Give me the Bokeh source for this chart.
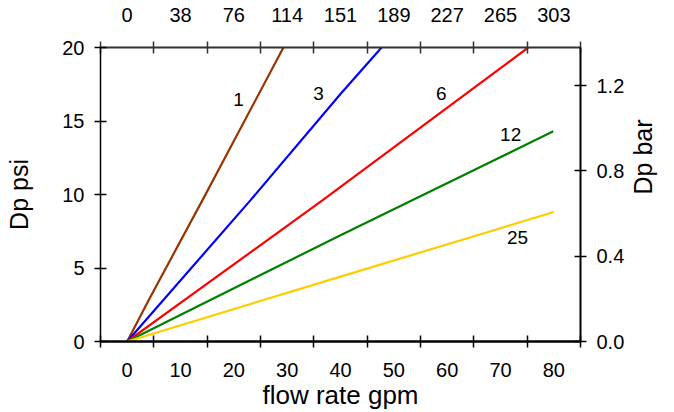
import math
from bokeh.plotting import figure
from bokeh.models import LinearAxis, Range1d, FixedTicker, PrintfTickFormatter
from bokeh.core.properties import value
from bokeh.embed import file_html
from bokeh.resources import INLINE

# ---- data ----
gpm_ticks = [0, 10, 20, 30, 40, 50, 60, 70, 80]
gpm_minor = [-5, 5, 15, 25, 35, 45, 55, 65, 75, 85]
lpm_labels = ["0", "38", "76", "114", "151", "189", "227", "265", "303"]
psi_ticks = [0, 5, 10, 15, 20]
bar_ticks = [0.0, 0.4, 0.8, 1.2]

names = ["1", "3", "6", "12", "25"]
colors = ["#993300", "#0000FF", "#FF0000", "#008000", "#FFCC00"]
flow_1 = [0, 4.05, 14.1, 29.3]
dp_1 = [0, 2.83, 9.6, 20.0]
flow_3 = [0, 23.1, 40.0, 47.7]
dp_3 = [0, 9.6, 16.84, 20.0]
flow_6 = [0, 36.6, 75.2]
dp_6 = [0, 9.6, 20.0]
flow_12 = [0, 40.0, 79.9]
dp_12 = [0, 7.23, 14.3]
flow_25 = [0, 40.0, 80.0]
dp_25 = [0, 4.41, 8.81]
label_x = [20.9, 35.9, 58.9, 71.9, 73.2]
label_y = [16.45, 16.9, 16.9, 14.1, 7.1]

FONT = "Liberation Sans"

p = figure(width=674, height=412, x_range=Range1d(-5, 85), y_range=Range1d(0, 20),
           output_backend="svg", toolbar_location=None,
           x_axis_location=None, y_axis_location=None,
           min_border_left=100, min_border_right=94, min_border_top=47, min_border_bottom=70)
p.outline_line_color = None
p.grid.visible = False
p.extra_y_ranges = {"bar": Range1d(0, 20 / 14.5038)}

def style(ax, title_size="25px"):
    ax.major_label_text_font = FONT
    ax.major_label_text_font_size = "20px"
    ax.major_label_text_color = "black"
    ax.axis_line_color = "black"
    ax.major_tick_line_color = "black"
    ax.minor_tick_line_color = "black"
    ax.axis_label_text_font = FONT
    ax.axis_label_text_font_size = title_size
    ax.axis_label_text_font_style = "normal"
    ax.axis_label_text_color = "black"

# bottom axis
xb = LinearAxis(ticker=FixedTicker(ticks=gpm_ticks, minor_ticks=gpm_minor),
                axis_label="flow rate gpm")
style(xb, "26px")
xb.major_tick_in = 0
xb.major_tick_out = 0
xb.minor_tick_in = 6
xb.minor_tick_out = 6
xb.minor_tick_line_width = 1.5
xb.axis_line_width = 2.5
xb.major_label_standoff = 15
xb.axis_label_standoff = 0
p.add_layout(xb, "below")

# top axis
xt = LinearAxis(ticker=FixedTicker(ticks=gpm_ticks, minor_ticks=gpm_minor),
                major_label_overrides=dict(zip(gpm_ticks, lpm_labels)))
style(xt)
xt.major_tick_in = 0
xt.major_tick_out = 0
xt.minor_tick_in = 6
xt.minor_tick_out = 6
xt.minor_tick_line_width = 1.5
xt.axis_line_width = 2
xt.axis_line_color = "#333333"
xt.minor_tick_line_color = "#333333"
xt.major_label_standoff = 20
p.add_layout(xt, "above")

# left axis
yl = LinearAxis(ticker=FixedTicker(ticks=psi_ticks, minor_ticks=[]), axis_label="Dp psi")
style(yl)
yl.major_tick_in = 6
yl.major_tick_out = 6
yl.major_tick_line_width = 1.5
yl.axis_line_width = 1.5
yl.major_label_standoff = 10
yl.axis_label_standoff = 26
p.add_layout(yl, "left")

# right axis
yr = LinearAxis(y_range_name="bar", ticker=FixedTicker(ticks=bar_ticks, minor_ticks=[]),
                formatter=PrintfTickFormatter(format="%.1f"), axis_label="Dp bar")
style(yr)
yr.major_tick_in = 6
yr.major_tick_out = 6
yr.major_tick_line_width = 1.5
yr.axis_line_width = 2
yr.major_label_standoff = 10
yr.axis_label_standoff = 16
yr.axis_label_orientation = math.pi / 2
p.add_layout(yr, "right")

series = [(flow_1, dp_1), (flow_3, dp_3), (flow_6, dp_6), (flow_12, dp_12), (flow_25, dp_25)]
for (fx, fy), c in zip(series, colors):
    p.line(fx, fy, line_color=c, line_width=2.2)

p.text(x=label_x, y=label_y, text=names, text_font=value(FONT), text_font_size="19px",
       text_align="center", text_baseline="middle", text_color="black")

open("out.html", "w").write(file_html(p, INLINE))
